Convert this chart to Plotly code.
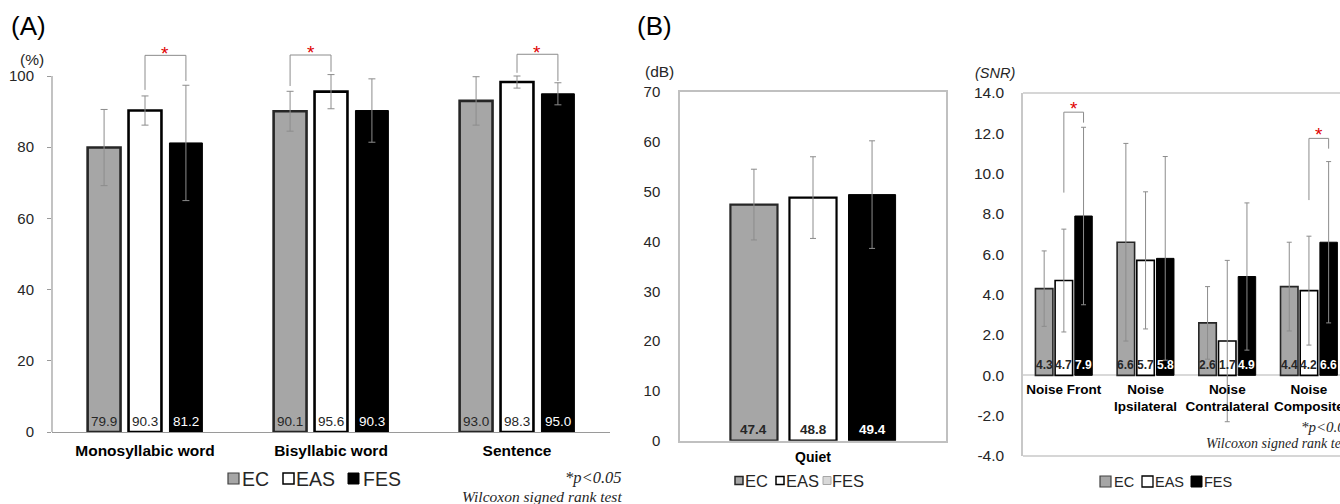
import numpy as np
import plotly.graph_objects as go

W, H = 1340, 504

series = ["EC", "EAS", "FES"]

# ---------- Panel A: speech recognition (%) ----------
a_categories = ["Monosyllabic word", "Bisyllabic word", "Sentence"]
a_ec = [79.9, 90.1, 93.0]
a_eas = [90.3, 95.6, 98.3]
a_fes = [81.2, 90.3, 95.0]
a_ec_err = [10.7, 5.6, 6.8]
a_eas_err = [4.1, 4.8, 1.7]
a_fes_err = [16.2, 8.9, 3.1]
a_yticks = [0, 20, 40, 60, 80, 100]

# ---------- Panel B: quiet threshold (dB) ----------
b_categories = ["Quiet"]
b_ec = [47.4]
b_eas = [48.8]
b_fes = [49.4]
b_ec_err = [7.1]
b_eas_err = [8.2]
b_fes_err = [10.8]
b_yticks = [0, 10, 20, 30, 40, 50, 60, 70]

# ---------- Panel C: SNR ----------
c_categories = ["Noise Front", "Noise<br>Ipsilateral", "Noise<br>Contralateral", "Noise<br>Composite"]
c_ec = [4.3, 6.6, 2.6, 4.4]
c_eas = [4.7, 5.7, 1.7, 4.2]
c_fes = [7.9, 5.8, 4.9, 6.6]
c_ec_err = [1.87, 4.9, 1.8, 2.2]
c_eas_err = [2.55, 3.4, 4.0, 2.7]
c_fes_err = [4.4, 5.05, 3.65, 4.0]
c_yticks = [-4, -2, 0, 2, 4, 6, 8, 10, 12, 14]

# significance brackets: (category index, series a, series b, top, leg a bottom, leg b bottom)
a_brackets = [(0, 1, 2, 105.8, 96.1, 98.6), (1, 0, 1, 105.9, 97.2, 101.2), (2, 1, 2, 106.1, 100.9, 98.6)]
c_brackets = [(0, 1, 2, 13.05, 9.06, 12.53), (3, 1, 2, 11.75, 8.69, 11.24)]

GRAY = "#a6a6a6"
FONT = "Arial, Liberation Sans, sans-serif"
SERIF = "Times New Roman, Liberation Serif, serif"
TXT = "#262626"


def px(x):
    return x / W


def py(y):
    return 1 - y / H


fig = go.Figure()
annotations = []
shapes = []

panels = [
    dict(xa="x", ya="y", cats=a_categories, vals=[a_ec, a_eas, a_fes], errs=[a_ec_err, a_eas_err, a_fes_err],
         width=0.177, slot=0.22, outline=2.6, capw=3.5, lab_font=13.5, lab_bold=False, lab_shift=11),
    dict(xa="x2", ya="y2", cats=b_categories, vals=[b_ec, b_eas, b_fes], errs=[b_ec_err, b_eas_err, b_fes_err],
         width=0.177, slot=0.222, outline=2.2, capw=3, lab_font=13.5, lab_bold=True, lab_shift=11.4),
    dict(xa="x3", ya="y3", cats=c_categories, vals=[c_ec, c_eas, c_fes], errs=[c_ec_err, c_eas_err, c_fes_err],
         width=0.214, slot=0.241, outline=1.6, capw=2.5, lab_font=12, lab_bold=True, lab_shift=10.3),
]

fills = [GRAY, "white", "black"]
lines = ["#262626", "black", "black"]
lab_colors = [TXT, TXT, "white"]

for p in panels:
    n = len(p["cats"])
    xs = np.arange(n)
    for k in range(3):
        off = (k - 1) * p["slot"] - p["width"] / 2
        fig.add_trace(go.Bar(
            x=xs, y=p["vals"][k], width=p["width"], offset=off,
            marker=dict(color=fills[k], line=dict(color=lines[k], width=p["outline"] if k < 2 else 1)),
            error_y=dict(type="data", array=p["errs"][k], color="#8c8c8c", thickness=1, width=p["capw"]),
            xaxis=p["xa"], yaxis=p["ya"], showlegend=False, name=series[k],
        ))
        for i in range(n):
            t = f"{p['vals'][k][i]:.1f}"
            if p["lab_bold"]:
                t = f"<b>{t}</b>"
            annotations.append(dict(
                x=i + (k - 1) * p["slot"], y=0, xref=p["xa"], yref=p["ya"], text=t, showarrow=False,
                yanchor="middle", yshift=p["lab_shift"],
                font=dict(family=FONT, size=p["lab_font"], color=lab_colors[k]),
            ))


def add_brackets(brs, slot, xa, ya, star_shift):
    for (i, s1, s2, top, b1, b2) in brs:
        x1 = i + (s1 - 1) * slot
        x2 = i + (s2 - 1) * slot
        shapes.append(dict(type="path", xref=xa, yref=ya,
                           path=f"M {x1},{b1} L {x1},{top} L {x2},{top} L {x2},{b2}",
                           line=dict(color="#8c8c8c", width=1)))
        annotations.append(dict(x=(x1 + x2) / 2, y=top, xref=xa, yref=ya, text="*", showarrow=False,
                                yanchor="middle", yshift=star_shift,
                                font=dict(family=FONT, size=19, color="#e00000")))


add_brackets(a_brackets, 0.22, "x", "y", 2)
add_brackets(c_brackets, 0.241, "x3", "y3", 4)

# Panel A y-axis line only up to 100
shapes.append(dict(type="line", xref="x domain", yref="y", x0=0, x1=0, y0=0, y1=100,
                   line=dict(color="#9a9a9a", width=1.2)))

# Panel C box top / bottom
for yy in (0, 1):
    shapes.append(dict(type="line", xref="x3 domain", yref="y3 domain", x0=0, x1=1, y0=yy, y1=yy,
                       line=dict(color="#c8c8c8", width=1.5)))

# ---------- Layout axes ----------
a_dom_y = [py(432), py(40.4)]
b_dom_y = [py(440.7), py(92)]
c_dom_y = [py(456), py(93)]
c_range = [-4, 14]
c_zero_pos = c_dom_y[0] + (0 - c_range[0]) / (c_range[1] - c_range[0]) * (c_dom_y[1] - c_dom_y[0])

fig.update_layout(
    width=W, height=H, margin=dict(l=0, r=0, t=0, b=0, pad=0, autoexpand=False),
    paper_bgcolor="white", plot_bgcolor="white", barmode="overlay", showlegend=False,
    font=dict(family=FONT, color=TXT),
    xaxis=dict(domain=[px(52), px(610)], range=[-0.5, 2.5], tickvals=list(range(3)),
               ticktext=[f"<b>{c}</b>" for c in a_categories], tickfont=dict(size=15.5, color="black"),
               showline=True, linecolor="#9a9a9a", linewidth=1.2, showgrid=False, zeroline=False,
               ticks="", ticklabelstandoff=4, automargin=False),
    yaxis=dict(domain=a_dom_y, range=[0, 110], tickvals=a_yticks, tickfont=dict(size=15),
               showline=False, showgrid=False, zeroline=False, ticks="outside", ticklen=4,
               tickcolor="#9a9a9a", ticklabelstandoff=10, automargin=False),
    xaxis2=dict(domain=[px(680), px(946)], range=[-0.5, 0.5], tickvals=[0],
                ticktext=[f"<b>{c}</b>" for c in b_categories], tickfont=dict(size=14, color="black"),
                showline=True, mirror=True, linecolor="#c0c0c0", linewidth=1.5, showgrid=False,
                zeroline=False, ticks="", anchor="y2", ticklabelstandoff=3, automargin=False),
    yaxis2=dict(domain=b_dom_y, range=[0, 70], tickvals=b_yticks, tickfont=dict(size=15),
                showline=True, mirror=True, linecolor="#c0c0c0", linewidth=1.5, showgrid=False,
                zeroline=False, ticks="", anchor="x2", ticklabelstandoff=15, automargin=False),
    xaxis3=dict(domain=[px(1023), 1], range=[-0.5, 3.38], tickvals=list(range(4)),
                ticktext=[f"<b>{c}</b>" for c in c_categories], tickfont=dict(size=13.5, color="black"),
                showline=False, showgrid=False, zeroline=False, ticks="", anchor="free",
                position=c_zero_pos, ticklabelstandoff=4, automargin=False, ticklabeloverflow="allow"),
    yaxis3=dict(domain=c_dom_y, range=c_range, tickvals=c_yticks,
                ticktext=[f"{v:.1f}" for v in c_yticks], tickfont=dict(size=15.5),
                showline=True, linecolor="#c8c8c8", linewidth=1.5, showgrid=False,
                zeroline=True, zerolinecolor="#d9d9d9", zerolinewidth=1.5, ticks="", anchor="x3",
                ticklabelstandoff=14, automargin=False),
)


def text_px(x, y, t, size, xanchor="center", family=FONT, color=TXT, italic=False):
    annotations.append(dict(x=px(x), y=py(y), xref="paper", yref="paper", text=t, showarrow=False,
                            xanchor=xanchor, yanchor="middle",
                            font=dict(family=family, size=size, color=color,
                                      style="italic" if italic else "normal")))


text_px(28, 26, "(A)", 26, color="black")
text_px(654, 26, "(B)", 26, color="black")
text_px(32, 59, "(%)", 15.5)
text_px(659, 72, "(dB)", 15.5)
text_px(995, 73, "(SNR)", 14.5, italic=True)

text_px(624, 477, "*p&lt;0.05", 16.5, xanchor="right", family=SERIF, italic=True)
text_px(624, 496, "Wilcoxon signed rank test", 15.5, xanchor="right", family=SERIF, italic=True)
text_px(1299, 427, "*p&lt;0.05", 15, xanchor="left", family=SERIF, italic=True)
text_px(1204, 443, "Wilcoxon signed rank test", 14, xanchor="left", family=SERIF, italic=True)


def legend(items, yc, size, font_size):
    for (x0, tx, fill, lc, lw, label) in items:
        shapes.append(dict(type="rect", xref="paper", yref="paper", x0=px(x0), x1=px(x0 + size),
                           y0=py(yc + size / 2), y1=py(yc - size / 2), fillcolor=fill,
                           line=dict(color=lc, width=lw)))
        text_px(tx, yc, label, font_size, xanchor="left")


legend([(228, 240, GRAY, "#404040", 1.2, "EC"), (283, 294, "white", "black", 1.5, "EAS"),
        (348, 361, "black", "black", 1, "FES")], 478.5, 11, 19.5)
legend([(735, 742.5, GRAY, "#262626", 1.5, "EC"), (776, 784, "white", "black", 1.5, "EAS"),
        (823, 830, "#d9d9d9", "#a6a6a6", 1, "FES")], 480.5, 8, 16.5)
legend([(1100, 1112, GRAY, "#404040", 1.2, "EC"), (1142, 1153, "white", "black", 1.3, "EAS"),
        (1191, 1201.5, "black", "black", 1, "FES")], 481.5, 11, 14.5)

fig.update_layout(annotations=annotations, shapes=shapes)
fig.write_html("out.html", config={"displayModeBar": False},
               post_script="document.body.style.margin='0px';document.body.style.overflow='hidden';")
